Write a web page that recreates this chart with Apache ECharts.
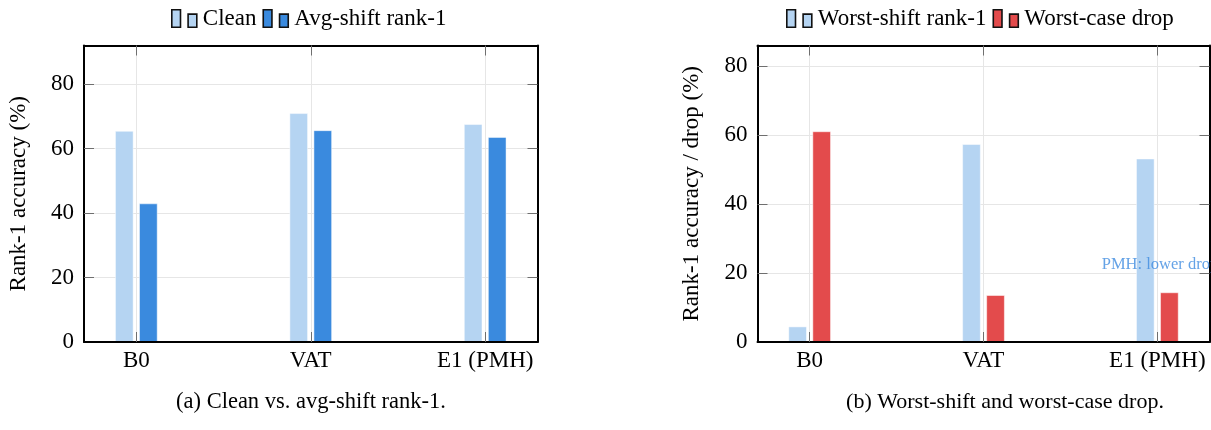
<!DOCTYPE html>
<html>
<head>
<meta charset="utf-8">
<title>Rank-1 accuracy under shift</title>
<script src="https://cdn.jsdelivr.net/npm/echarts@6/dist/echarts.min.js"></script>
<style>
  html, body { margin: 0; padding: 0; background: #fff; }
  #chart { width: 1211px; height: 430px; }
</style>
</head>
<body>
<div id="chart"></div>
<script>
// Methods compared in both panels
const categories = ['B0', 'VAT', 'E1 (PMH)'];

// Panel (a): clean vs. average-shift rank-1 accuracy (%)
const cleanRank1 = [65.5, 71.0, 67.6];
const avgShiftRank1 = [43.0, 65.7, 63.6];

// Panel (b): worst-shift rank-1 accuracy and worst-case drop (%)
const worstShiftRank1 = [4.5, 57.4, 53.2];
const worstCaseDrop = [61.1, 13.6, 14.4];

// Value axis ranges
const yMaxA = 92;
const yMaxB = 86;
const yStep = 20;

// Annotation in panel (b), in data coordinates
const noteText = 'PMH: lower drop';
const notePos = [1.68, 22.3];

const FONT = '"Liberation Serif", "DejaVu Serif", serif';
const COLORS = { light: '#b5d4f2', blue: '#3a8ade', red: '#e34b4c' };
const catIdx = categories.map((_, i) => i);
const pairs = arr => arr.map((v, i) => [i, v]);

const GRIDS = [
  { left: 84, right: 1211 - 537.5, top: 45.5, bottom: 430 - 342 },
  { left: 757.5, right: 1.5, top: 45.5, bottom: 430 - 342 }
];

const frameLine = { show: true, onZero: false, lineStyle: { color: '#000', width: 2 } };
const innerTick = { show: true, inside: true, length: 10, lineStyle: { color: '#6f6f6f', width: 1 } };
const gridLine = { show: true, lineStyle: { color: '#e6e6e6', width: 1 } };

function xAxes(g) {
  const base = { type: 'value', gridIndex: g, min: -0.3, max: 2.3, z: 3, axisLine: frameLine };
  return [
    Object.assign({}, base, {
      position: 'bottom',
      axisTick: Object.assign({}, innerTick, { customValues: catIdx }),
      axisLabel: {
        customValues: catIdx,
        formatter: v => categories[Math.round(v)],
        fontFamily: FONT, fontSize: 23, color: '#000', margin: 7
      },
      splitLine: gridLine
    }),
    Object.assign({}, base, {
      position: 'top',
      axisTick: Object.assign({}, innerTick, { customValues: catIdx }),
      axisLabel: { show: false },
      splitLine: { show: false }
    })
  ];
}

function yAxes(g, max, title) {
  const base = { type: 'value', gridIndex: g, min: 0, max: max, interval: yStep, axisLine: frameLine, axisTick: innerTick };
  return [
    Object.assign({}, base, {
      position: 'left',
      axisLabel: { fontFamily: FONT, fontSize: 23, color: '#000', margin: 10, showMaxLabel: false },
      splitLine: gridLine,
      name: title,
      nameLocation: 'middle',
      nameGap: 54,
      nameTextStyle: { fontFamily: FONT, fontSize: 23, color: '#000' }
    }),
    Object.assign({}, base, {
      position: 'right',
      axisLabel: { show: false },
      splitLine: { show: false }
    })
  ];
}

function bars(name, data, color, g) {
  return {
    name: name,
    type: 'bar',
    xAxisIndex: g * 2,
    yAxisIndex: g * 2,
    data: pairs(data),
    barWidth: 18.5,
    barGap: '30%',
    itemStyle: { color: color, borderColor: 'rgba(255,255,255,0.6)', borderWidth: 0.8 },
    animation: false
  };
}

// Legend glyph: two bordered bars side by side, the first one taller
const legendIcon = 'path://M0,0H8V16H0Z M15,4H23V16H15Z';
function legend(names, left) {
  return {
    data: names,
    left: left,
    top: 2,
    icon: legendIcon,
    itemWidth: 25,
    itemHeight: 19,
    itemGap: 6,
    itemStyle: { borderColor: '#111', borderWidth: 1.6 },
    textStyle: { fontFamily: FONT, fontSize: 23, color: '#000', padding: [0, 0, 0, 1] }
  };
}

const chart = echarts.init(document.getElementById('chart'), null, { renderer: 'canvas' });
chart.setOption({
  animation: false,
  backgroundColor: '#fff',
  grid: GRIDS,
  legend: [
    legend(['Clean', 'Avg-shift rank-1'], 166),
    legend(['Worst-shift rank-1', 'Worst-case drop'], 781)
  ],
  xAxis: [].concat(xAxes(0), xAxes(1)),
  yAxis: [].concat(
    yAxes(0, yMaxA, 'Rank-1 accuracy (%)'),
    yAxes(1, yMaxB, 'Rank-1 accuracy / drop (%)')
  ),
  series: [
    bars('Clean', cleanRank1, COLORS.light, 0),
    bars('Avg-shift rank-1', avgShiftRank1, COLORS.blue, 0),
    bars('Worst-shift rank-1', worstShiftRank1, COLORS.light, 1),
    bars('Worst-case drop', worstCaseDrop, COLORS.red, 1),
    {
      type: 'scatter',
      xAxisIndex: 2,
      yAxisIndex: 2,
      data: [notePos],
      symbolSize: 0,
      silent: true,
      z: 5,
      label: {
        show: true,
        position: 'inside',
        align: 'left',
        verticalAlign: 'middle',
        formatter: noteText,
        fontFamily: FONT,
        fontSize: 16.5,
        color: '#3d8be0'
      }
    }
  ],
  graphic: [
    {
      type: 'text', x: 311, y: 402,
      style: { text: '(a) Clean vs. avg-shift rank-1.', font: '22.5px ' + FONT, fill: '#000', align: 'center', verticalAlign: 'middle' }
    },
    {
      type: 'text', x: 1005, y: 402,
      style: { text: '(b) Worst-shift and worst-case drop.', font: '22px ' + FONT, fill: '#000', align: 'center', verticalAlign: 'middle' }
    }
  ]
});
</script>
</body>
</html>
